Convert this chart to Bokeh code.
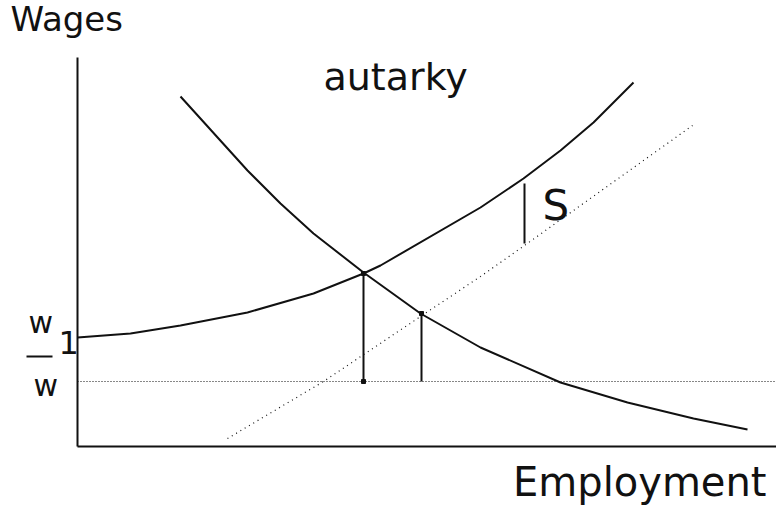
from bokeh.plotting import figure
from bokeh.models import Range1d, ColumnDataSource
from bokeh.core.properties import value
from bokeh.embed import file_html
from bokeh.resources import INLINE

# ---- values (employment on x, wages on y) ----
upper_emp = [0, 53, 103, 170, 236, 286, 303, 403, 446, 483, 516, 556]
upper_wage = [109, 113, 121, 134, 153, 173, 181, 239, 268, 296, 324, 364]

demand_emp = [103, 170, 203, 236, 286, 343, 403, 483, 550, 616, 670]
demand_wage = [350, 276, 243, 213, 174, 133, 99, 64, 44, 28, 17]

shifted_emp = [150, 246, 343, 403, 447, 503, 615]
shifted_wage = [8, 65, 130, 170, 201, 241, 321]

w_bar = 65          # horizontal dotted wage level
w_one = 109         # wage intercept of the upper curve
autarky_emp, autarky_wage = 286, 173
trade_emp, trade_wage = 344, 133
s_emp, s_low, s_high = 447, 203, 263

label_texts = ["Wages", "autarky", "Employment", "S", "w", "1", "w"]

# ---- layout ----
x_min, x_max = -77, 699
y_min, y_max = -64, 446
y_axis_top = 389

p = figure(width=776, height=510, x_range=Range1d(x_min, x_max), y_range=Range1d(y_min, y_max),
           output_backend="svg", toolbar_location=None, min_border=0)
p.axis.visible = False
p.grid.visible = False
p.outline_line_color = None
p.background_fill_color = "white"
p.border_fill_color = "white"

ink = "#111111"

# axes
p.segment(x0=[0, 0], y0=[0, 0], x1=[0, x_max], y1=[y_axis_top, 0], line_color=ink, line_width=2)

# horizontal dotted wage line
p.segment(x0=[0], y0=[w_bar], x1=[x_max], y1=[w_bar], line_color=ink, line_width=1.2, line_dash="1 2")

# shifted (dotted) curve
p.line(shifted_emp, shifted_wage, line_color=ink, line_width=1.2, line_dash="1 4")

# curves
p.line(upper_emp, upper_wage, line_color=ink, line_width=2)
p.line(demand_emp, demand_wage, line_color=ink, line_width=2)

# vertical drop lines
p.segment(x0=[autarky_emp, trade_emp], y0=[w_bar, w_bar], x1=[autarky_emp, trade_emp],
          y1=[autarky_wage, trade_wage], line_color=ink, line_width=2)
# S marker
p.segment(x0=[s_emp], y0=[s_low], x1=[s_emp], y1=[s_high], line_color=ink, line_width=2)

# small dots at the intersections
p.scatter([autarky_emp, trade_emp, autarky_emp], [autarky_wage, trade_wage, w_bar],
          size=4, color=ink, marker="square")

# bar under the upper w label
p.segment(x0=[-51], y0=[90], x1=[-25], y1=[90], line_color=ink, line_width=2)

src = ColumnDataSource(dict(
    text=label_texts,
    x=[-67, 246, 689, 465, -49, -19, -44],
    y=[428, 370, -35, 241, 124, 104, 61],
    size=["34px", "38px", "40px", "42px", "30px", "32px", "30px"],
    align=["left", "left", "right", "left", "left", "left", "left"],
))
p.text(x="x", y="y", text="text", source=src, text_font=value("DejaVu Sans"),
       text_font_size="size", text_align="align", text_baseline="alphabetic",
       text_color=ink)

open("out.html", "w").write(file_html(p, INLINE))
